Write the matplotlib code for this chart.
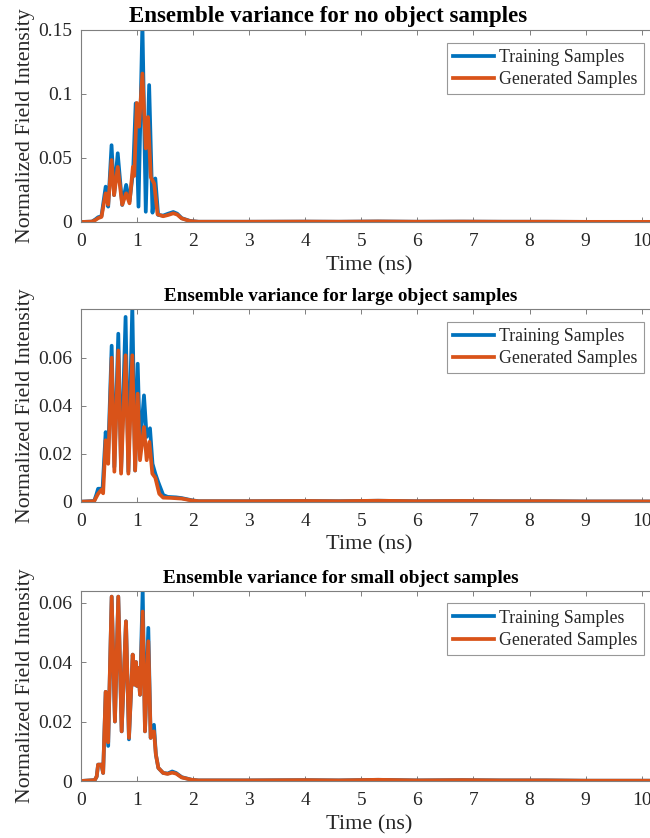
import matplotlib

matplotlib.use("Agg")
import matplotlib.pyplot as plt

# ---- values (time in ns, normalized intensity) ----
tail_t = [2.10, 3.00, 4.00, 4.60, 5.30, 6.00, 6.80, 7.50, 8.30, 9.00, 10.30]
tail_v = [0.0002, 0.0002, 0.0003, 0.0002, 0.0004, 0.0002, 0.0003, 0.0002, 0.0002, 0.0001, 0.0001]

no_train_t = [0, 0.20, 0.26, 0.31, 0.37, 0.445, 0.49, 0.55, 0.595, 0.66, 0.74, 0.81, 0.87,
              0.935, 0.98, 1.03, 1.10, 1.16, 1.22, 1.28, 1.33, 1.38, 1.47, 1.56, 1.65, 1.72,
              1.80, 1.95]
no_train_v = [0, 0.0003, 0.002, 0.0037, 0.0045, 0.0276, 0.012, 0.060, 0.021, 0.0537, 0.0133,
              0.029, 0.016, 0.040, 0.0927, 0.012, 0.155, 0.008, 0.107, 0.0073, 0.034, 0.0055,
              0.005, 0.0065, 0.0078, 0.0065, 0.003, 0.0008]
no_gen_t = [0, 0.20, 0.26, 0.31, 0.37, 0.445, 0.49, 0.55, 0.595, 0.66, 0.74, 0.81, 0.87,
            0.93, 0.955, 1.00, 1.04, 1.10, 1.16, 1.20, 1.25, 1.31, 1.37, 1.47, 1.56, 1.65,
            1.72, 1.80, 1.95]
no_gen_v = [0, 0.0003, 0.0015, 0.003, 0.004, 0.0224, 0.0135, 0.0484, 0.021, 0.043, 0.0135,
            0.0224, 0.0146, 0.043, 0.036, 0.093, 0.0745, 0.116, 0.0575, 0.082, 0.035, 0.030,
            0.006, 0.0045, 0.0055, 0.0068, 0.0058, 0.0028, 0.0007]

large_train_t = [0, 0.24, 0.28, 0.31, 0.39, 0.445, 0.49, 0.552, 0.60, 0.67, 0.72, 0.80, 0.85,
                 0.92, 0.97, 1.016, 1.057, 1.128, 1.176, 1.235, 1.28, 1.33, 1.38, 1.47, 1.55,
                 1.70, 1.80, 1.98]
large_train_v = [0, 0.0003, 0.003, 0.0054, 0.0054, 0.029, 0.020, 0.065, 0.0145, 0.070, 0.013,
                 0.077, 0.0125, 0.0815, 0.013, 0.0575, 0.0228, 0.0443, 0.027, 0.0306, 0.0158,
                 0.0117, 0.0083, 0.0028, 0.002, 0.0018, 0.0015, 0.0006]
large_gen_t = [0, 0.24, 0.28, 0.31, 0.37, 0.40, 0.445, 0.49, 0.552, 0.60, 0.67, 0.72, 0.80,
               0.85, 0.92, 0.97, 1.016, 1.057, 1.128, 1.176, 1.224, 1.277, 1.33, 1.40, 1.47,
               1.60, 1.80, 1.98]
large_gen_v = [0, 0.0002, 0.002, 0.0033, 0.005, 0.0035, 0.0256, 0.0158, 0.060, 0.0125, 0.063,
               0.0117, 0.061, 0.0117, 0.061, 0.013, 0.045, 0.0173, 0.0311, 0.0173, 0.0249,
               0.0117, 0.010, 0.0033, 0.0017, 0.0016, 0.0013, 0.0005]

small_t = [0, 0.25, 0.285, 0.31, 0.37, 0.40, 0.445, 0.49, 0.552, 0.61, 0.67, 0.73, 0.807,
           0.86, 0.927, 0.956, 0.986, 1.00, 1.027, 1.057, 1.105, 1.146, 1.205, 1.247, 1.306,
           1.34, 1.384, 1.47, 1.55, 1.63, 1.70, 1.80, 1.98]
small_train_v = [0, 0.0003, 0.0015, 0.0055, 0.0055, 0.0027, 0.030, 0.0118, 0.062, 0.020, 0.062,
                 0.0167, 0.0537, 0.0140, 0.0425, 0.0324, 0.040, 0.032, 0.038, 0.029, 0.0645,
                 0.0167, 0.0515, 0.0145, 0.0189, 0.0089, 0.0044, 0.0027, 0.0025, 0.0032,
                 0.0027, 0.0013, 0.0004]
small_gen_v = [0, 0.0003, 0.0015, 0.0055, 0.0055, 0.0027, 0.030, 0.013, 0.062, 0.020, 0.062,
               0.0167, 0.0537, 0.0145, 0.0425, 0.0324, 0.040, 0.032, 0.038, 0.029, 0.057,
               0.0167, 0.047, 0.0145, 0.0167, 0.0089, 0.0044, 0.0027, 0.0024, 0.0028,
               0.0025, 0.0012, 0.0004]

titles = ["Ensemble variance for no object samples",
          "Ensemble variance for large object samples",
          "Ensemble variance for small object samples"]
y_max = [0.15, 0.0803, 0.064]
y_ticks = [[0, 0.05, 0.1, 0.15], [0, 0.02, 0.04, 0.06], [0, 0.02, 0.04, 0.06]]
y_tick_labels = [["0", "0.05", "0.1", "0.15"], ["0", "0.02", "0.04", "0.06"],
                 ["0", "0.02", "0.04", "0.06"]]
x_ticks = list(range(0, 11))

series = [
    (no_train_t, no_train_v, no_gen_t, no_gen_v),
    (large_train_t, large_train_v, large_gen_t, large_gen_v),
    (small_t, small_train_v, small_t, small_gen_v),
]

BLUE = "#0072BD"
ORANGE = "#D95319"
SPINE = "#7f7f7f"
TEXT = "#262626"

plt.rcParams["font.family"] = ["Liberation Serif", "DejaVu Serif"]

W, H = 650, 838
fig = plt.figure(figsize=(W / 100, H / 100), dpi=100)

# axes boxes in pixels: (left, top, bottom); the right edge runs past the figure
boxes = [(80.7, 30, 222), (80.7, 309, 501.7), (80.7, 590.7, 781)]
px_per_ns = 56.1
xmax = 10.3
title_x = [0.428, 0.450, 0.450]
title_size = [16.5, 13.8, 13.8]

for i, ((tt, tv, gt, gv), (left, top, bottom)) in enumerate(zip(series, boxes)):
    width = xmax * px_per_ns
    height = bottom - top
    ax = fig.add_axes([left / W, (H - bottom) / H, width / W, height / H])
    ax.plot(tt + tail_t, tv + tail_v, color=BLUE, lw=2.7, label="Training Samples")
    ax.plot(gt + tail_t, gv + tail_v, color=ORANGE, lw=2.7, label="Generated Samples")
    ax.set_xlim(0, xmax)
    ax.set_ylim(0, y_max[i])
    ax.set_xticks(x_ticks)
    ax.set_xticklabels([str(v) for v in x_ticks])
    ax.set_yticks(y_ticks[i])
    ax.set_yticklabels(y_tick_labels[i])
    ax.tick_params(direction="in", length=3.5, width=0.7, top=True, right=True,
                   labelsize=14, colors=SPINE, labelcolor=TEXT)
    ax.tick_params(axis="x", pad=8)
    ax.tick_params(axis="y", pad=6)
    for sp in ax.spines.values():
        sp.set_color(SPINE)
        sp.set_linewidth(0.8)
    ax.set_xlabel("Time (ns)", fontsize=16, color=TEXT)
    ax.xaxis.set_label_coords(0.5, -(34 / height))
    ax.set_ylabel("Normalized Field Intensity", fontsize=15.7, color=TEXT)
    ax.yaxis.set_label_coords(-(46 / width), 0.5)
    ax.text(title_x[i], 1 + 8 / height, titles[i], transform=ax.transAxes, ha="center",
            va="baseline", fontsize=title_size[i], fontweight="bold", color="black")
    leg = ax.legend(loc="upper right",
                    bbox_to_anchor=((644 - left) / width, 1 - 12.7 / height),
                    fontsize=12.8, frameon=True, fancybox=False, handlelength=2.3,
                    handletextpad=0.3, labelspacing=0.3, borderpad=0.35, borderaxespad=0)
    leg.get_frame().set_edgecolor(SPINE)
    leg.get_frame().set_linewidth(0.8)
    for txt in leg.get_texts():
        txt.set_color(TEXT)

fig.savefig("out.png", dpi=100)
